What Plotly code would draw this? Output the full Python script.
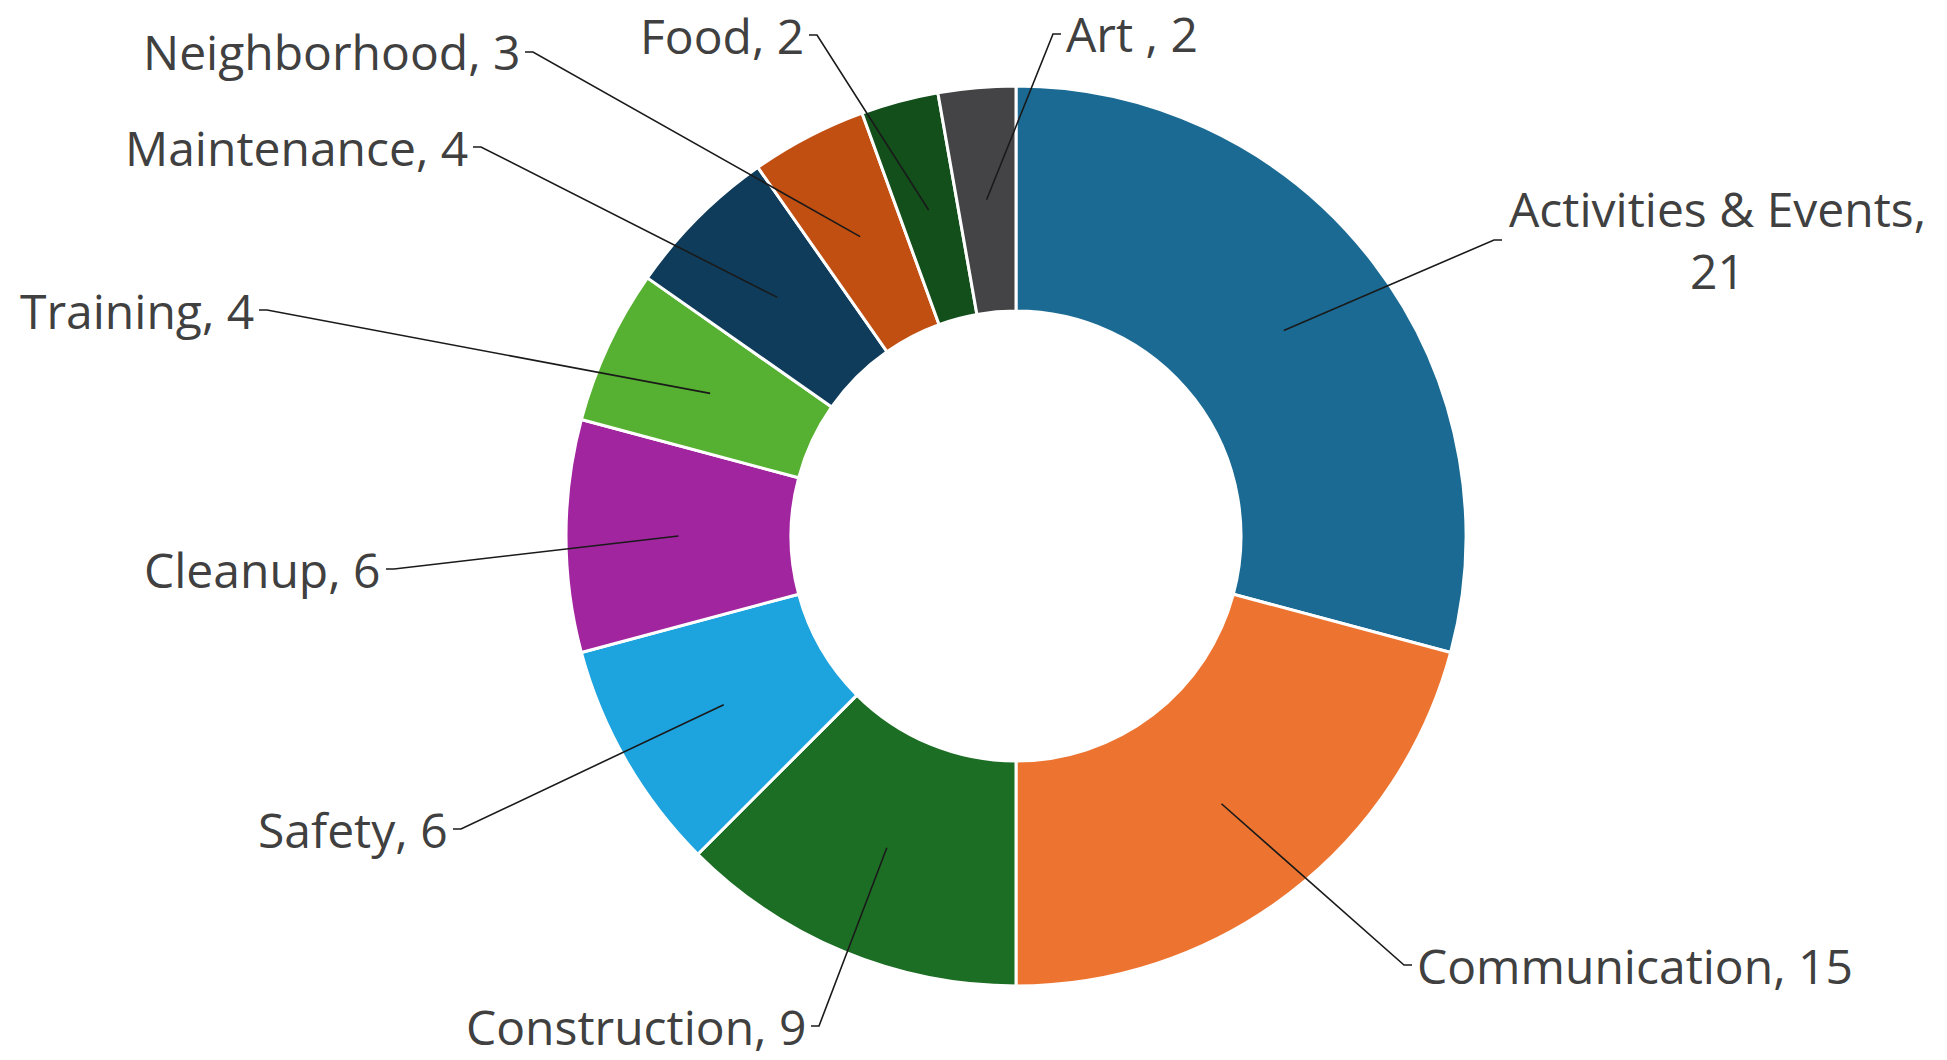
import math
import plotly.graph_objects as go

# ---- data ----
categories = ["Activities & Events", "Communication", "Construction", "Safety", "Cleanup",
              "Training", "Maintenance", "Neighborhood", "Food", "Art "]
values = [21, 15, 9, 6, 6, 4, 4, 3, 2, 2]
label_texts = ["Activities & Events,<br>21", "Communication, 15", "Construction, 9", "Safety, 6",
               "Cleanup, 6", "Training, 4", "Maintenance, 4", "Neighborhood, 3", "Food, 2", "Art , 2"]
colors = ["#1B6A93", "#EC7430", "#1D6E25", "#1DA3DE", "#A1259E",
          "#56B031", "#0F3C5A", "#C14F12", "#124F1B", "#444446"]

# ---- layout geometry (pixels) ----
W, H = 1947, 1060
CX, CY = 1016, 536          # pie centre
R_OUT = 450                 # outer radius
HOLE = 0.5

# label placement: (x, y, side)
label_pos = [
    (1717, 240, "center"),
    (1416, 965, "right"),
    (807, 1026, "left"),
    (449, 829, "left"),
    (382, 569, "left"),
    (255, 310, "left"),
    (469, 147, "left"),
    (521, 52, "left"),
    (805, 35, "left"),
    (1065, 34, "right"),
]
leader_start = [
    (1494, 240), None, None, None, None, None, None, None, None, None
]

def px(x):
    return x / W

def py(y):
    return 1 - y / H

fig = go.Figure()
fig.add_trace(go.Pie(
    labels=categories, values=values, sort=False, direction="clockwise", rotation=0,
    hole=HOLE, textinfo="none", hoverinfo="label+value",
    marker=dict(colors=colors, line=dict(color="white", width=3)),
    domain=dict(x=[px(CX - R_OUT), px(CX + R_OUT)], y=[py(CY + R_OUT), py(CY - R_OUT)]),
    showlegend=False,
))

total = sum(values)
r_mid = R_OUT * (1 + HOLE) / 2
cum = 0
shapes = []
annotations = []
font = dict(family="'Open Sans', Lato, sans-serif", size=48, color="#404040")
for i, v in enumerate(values):
    mid = (cum + v / 2) / total * 2 * math.pi
    cum += v
    tx = CX + r_mid * math.sin(mid)
    ty = CY - r_mid * math.cos(mid)
    lx, ly, side = label_pos[i]
    common = dict(x=px(lx), y=py(ly), xref="paper", yref="paper", text=label_texts[i],
                  showarrow=False, yanchor="middle", font=font, borderpad=0)
    if side == "center":
        sx, sy = leader_start[i]
        path = f"M {px(sx+8)},{py(sy)} L {px(sx)},{py(sy)} L {px(tx)},{py(ty)}"
        annotations.append(dict(common, xanchor="center", align="center"))
    elif side == "left":
        path = f"M {px(lx+4)},{py(ly)} L {px(lx+12)},{py(ly)} L {px(tx)},{py(ty)}"
        annotations.append(dict(common, xanchor="right"))
    else:
        path = f"M {px(lx-4)},{py(ly)} L {px(lx-12)},{py(ly)} L {px(tx)},{py(ty)}"
        annotations.append(dict(common, xanchor="left"))
    shapes.append(dict(type="path", path=path, xref="paper", yref="paper",
                       line=dict(color="#1a1a1a", width=1.6), layer="above"))

fig.update_layout(
    width=W, height=H, margin=dict(l=0, r=0, t=0, b=0),
    paper_bgcolor="white", plot_bgcolor="white",
    shapes=shapes, annotations=annotations,
)
fig.write_html("out.html")
